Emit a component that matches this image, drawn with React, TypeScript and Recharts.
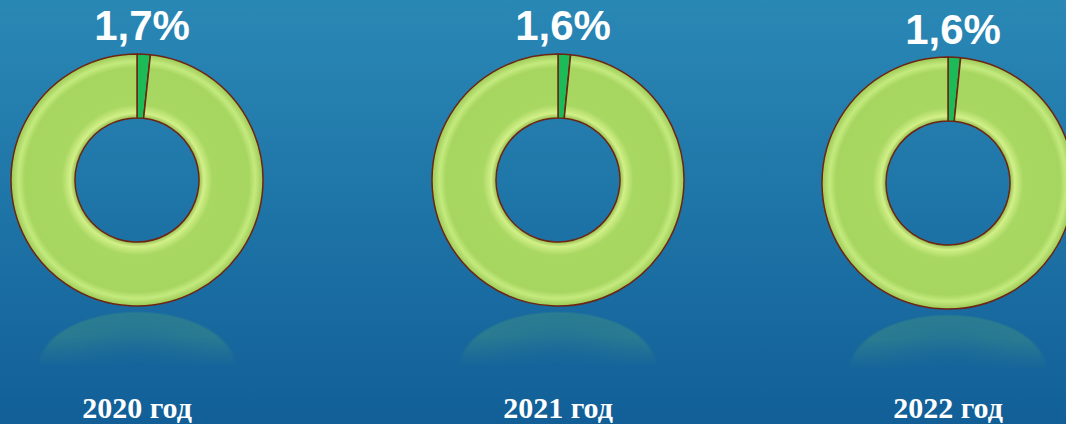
import { PieChart, Pie, Cell } from "recharts"

const years = ["2020 год", "2021 год", "2022 год"]
const shares = [1.7, 1.6, 1.6]
const shareLabels = ["1,7%", "1,6%", "1,6%"]

const W = 1066
const H = 424
const OUTER = 126
const INNER = 62
// donut centres
const centres = [
  { x: 137, y: 180 },
  { x: 558, y: 180 },
  { x: 948, y: 183 },
]
const labelTop = [5, 5, 9]

const GREEN = "#1cbb57"
const EDGE = "#6e2412"

export default function App() {
  return (
    <div
      style={{
        position: "absolute",
        left: 0,
        top: 0,
        width: W,
        height: H,
        overflow: "hidden",
        background: "linear-gradient(180deg, #2a88b5 0%, #1f76a8 45%, #125f98 100%)",
      }}
    >
      {centres.map((c, i) => (
        <div
          key={"refl" + i}
          style={{
            position: "absolute",
            left: c.x - 100,
            top: c.y + 131,
            width: 200,
            height: 56,
            borderRadius: "50% 50% 0 0 / 100% 100% 0 0",
            background:
              "radial-gradient(ellipse 50% 100% at 50% 100%, rgba(80,160,120,0.05) 0%, rgba(80,160,120,0.3) 70%, rgba(80,160,120,0.35) 96%, rgba(80,160,120,0) 100%)",
            WebkitMaskImage: "linear-gradient(180deg, #000 0%, #000 45%, transparent 100%)",
            maskImage: "linear-gradient(180deg, #000 0%, #000 45%, transparent 100%)",
          }}
        />
      ))}
      <PieChart
        width={W}
        height={H}
        margin={{ top: 0, right: 0, bottom: 0, left: 0 }}
        style={{ position: "absolute", left: 0, top: 0 }}
      >
        <defs>
          {centres.map((c, i) => (
            <radialGradient
              key={i}
              id={"ring" + i}
              gradientUnits="userSpaceOnUse"
              cx={c.x}
              cy={c.y}
              r={OUTER}
            >
              <stop offset="0.49" stopColor="#8fb84c" />
              <stop offset="0.53" stopColor="#d2f088" />
              <stop offset="0.60" stopColor="#a8d762" />
              <stop offset="0.89" stopColor="#a7d660" />
              <stop offset="0.94" stopColor="#c4ea7e" />
              <stop offset="1" stopColor="#9cc956" />
            </radialGradient>
          ))}
        </defs>
        {centres.map((c, i) => (
          <Pie
            key={years[i]}
            data={[
              { name: "доля", value: shares[i] },
              { name: "прочее", value: 100 - shares[i] },
            ]}
            dataKey="value"
            cx={c.x}
            cy={c.y}
            innerRadius={INNER}
            outerRadius={OUTER}
            startAngle={90}
            endAngle={-270}
            stroke={EDGE}
            strokeWidth={1.5}
            isAnimationActive={false}
          >
            <Cell fill={GREEN} />
            <Cell fill={`url(#ring${i})`} />
          </Pie>
        ))}
      </PieChart>
      {centres.map((c, i) => (
        <div
          key={"pct" + i}
          style={{
            position: "absolute",
            left: c.x - 100 + 5,
            top: labelTop[i],
            width: 200,
            textAlign: "center",
            color: "#fff",
            fontFamily: "'Liberation Sans', Arial, sans-serif",
            fontWeight: 700,
            fontSize: 42,
            lineHeight: "42px",
          }}
        >
          {shareLabels[i]}
        </div>
      ))}
      {centres.map((c, i) => (
        <div
          key={"yr" + i}
          style={{
            position: "absolute",
            left: c.x - 100,
            top: 392,
            width: 200,
            textAlign: "center",
            color: "#fff",
            fontFamily: "'Liberation Serif', 'Times New Roman', serif",
            fontWeight: 700,
            fontSize: 30,
            lineHeight: "32px",
          }}
        >
          {years[i]}
        </div>
      ))}
    </div>
  )
}
